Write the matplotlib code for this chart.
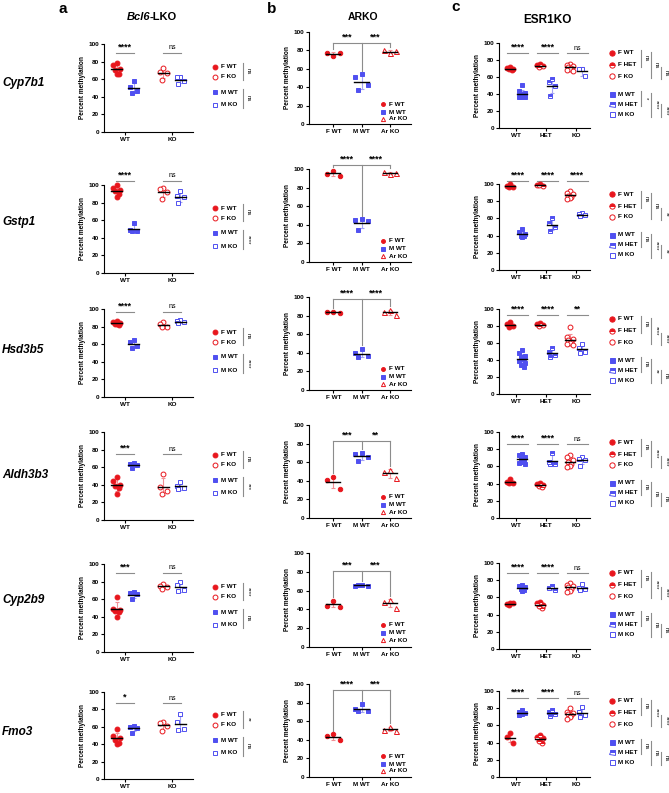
import matplotlib
matplotlib.use('Agg')
import matplotlib.pyplot as plt
import numpy as np

plt.rcParams['font.family'] = ['Liberation Sans', 'DejaVu Sans']
plt.rcParams['font.weight'] = 'bold'

genes = ['Cyp7b1', 'Gstp1', 'Hsd3b5', 'Aldh3b3', 'Cyp2b9', 'Fmo3']

# panel a: Bcl6-LKO
bcl6_f_wt = [[78, 76, 72, 70, 66, 66], [100, 97, 94, 93, 90, 86], [86, 85, 84, 83, 82, 83],
             [49, 44, 40, 39, 36, 29], [63, 49, 48, 47, 46, 40], [57, 50, 47, 45, 41, 40]]
bcl6_m_wt = [[58, 51, 47, 44], [57, 49, 48, 48], [65, 62, 58, 56],
             [65, 64, 62, 59], [68, 67, 66, 60], [61, 60, 59, 53]]
bcl6_f_ko = [[73, 68, 67, 59], [97, 96, 92, 84], [85, 83, 80, 79],
             [52, 38, 33, 29], [77, 75, 74, 72], [66, 64, 61, 55]]
bcl6_m_ko = [[63, 62, 58, 55], [93, 87, 86, 79], [87, 86, 85, 84],
             [43, 39, 36, 35], [80, 76, 70, 69], [75, 66, 57, 56]]
bcl6_sig_top = [['****', 'ns'], ['****', 'ns'], ['****', 'ns'], ['***', 'ns'], ['***', 'ns'], ['*', 'ns']]
bcl6_sig_f = ['ns', 'ns', 'ns', 'ns', '****', '**']
bcl6_sig_m = ['ns', '****', '****', '***', 'ns', 'ns']
bcl6_bar_y = [90, 105, 97, 75, 90, 87]

# panel b: ARKO
ar_f_wt = [[74, 77, 77.5], [98, 95, 93], [84, 84, 83], [44, 41, 31], [49, 44, 43], [46, 44, 40]]
ar_m_wt = [[54, 51, 42, 37], [46, 45, 44, 34], [44, 40, 37, 35],
           [70, 69, 66, 61], [66, 65, 65, 66], [78, 73, 71, 71]]
ar_ko = [[77, 80, 79], [95, 97, 96], [86, 84, 81], [52, 49, 43], [50, 48, 42], [54, 51, 50]]
ar_sig = [['***', '***'], ['****', '****'], ['****', '****'], ['***', '**'], ['***', '***'], ['****', '***']]
ar_bracket_y = [88, 104, 98, 83, 81, 94]

# panel c: ESR1KO
esr_f_wt = [[72, 71, 70, 69, 68], [100, 98, 97, 96], [85, 82, 80, 79],
            [45, 42, 41, 41], [53, 52, 53, 51], [51, 46, 40]]
esr_f_het = [[75, 74, 73, 72], [100, 99, 98, 99], [83, 82, 81, 80],
             [41, 39, 38, 37, 36], [55, 53, 51, 50, 48], [49, 47, 45, 42, 40]]
esr_f_ko = [[75, 74, 73, 72, 71, 70, 68, 67], [92, 90, 88, 86, 85, 84, 83],
            [79, 67, 65, 63, 61, 60, 59, 58], [73, 71, 67, 65, 63, 60, 59],
            [77, 75, 73, 72, 70, 68, 66], [80, 76, 74, 73, 72, 70, 68]]
esr_m_wt = [[51, 43, 41, 40, 39, 38, 37, 36, 36], [48, 44, 42, 40, 39, 38],
            [52, 48, 45, 44, 42, 41, 39, 37, 34, 32], [75, 73, 71, 69, 67, 65, 64, 63],
            [75, 73, 72, 70, 69, 68], [78, 76, 75, 74, 74, 73, 72]]
esr_m_het = [[58, 54, 49, 38], [60, 55, 50, 45], [54, 50, 46, 43],
             [76, 65, 63, 63], [73, 71, 69], [78, 76, 73, 71]]
esr_m_ko = [[70, 69, 61], [66, 65, 64, 63], [59, 54, 50, 48],
            [71, 69, 67, 61], [76, 71, 70, 69], [81, 76, 72, 70]]
esr_sig_top = [['****', '****', 'ns'], ['****', '****', '****'], ['****', '****', '**'],
               ['****', '****', 'ns'], ['****', '****', 'ns'], ['****', '****', 'ns']]
esr_sig_f = [['ns', 'ns', 'ns'], ['ns', 'ns', '**'], ['ns', '****', '****'],
             ['ns', '****', '****'], ['ns', '****', '****'], ['ns', '****', '****']]
esr_sig_m = [['*', '****', '****'], ['ns', '****', '**'], ['ns', '**', 'ns'],
             ['ns', 'ns', 'ns'], ['ns', 'ns', 'ns'], ['ns', 'ns', 'ns']]
esr_bar_y = [88, 104, 93, 86, 88, 92]

RED = '#e8161d'
BLUE = '#5050f0'
RED_L = '#f29095'
BLUE_L = '#a4a4f6'
GRAY = '#8c8c8c'

W, H = 669, 793
fig = plt.figure(figsize=(W / 100, H / 100), dpi=100)

# overlay in pixel coordinates for labels, legends and brackets
ov = fig.add_axes([0, 0, 1, 1])
ov.set_xlim(0, W)
ov.set_ylim(H, 0)
ov.axis('off')
ov.set_zorder(10)
ov.patch.set_alpha(0)

rows_a = [(44, 132), (185, 273), (309, 397), (432, 520), (564, 652), (692, 779)]
rows_b = [(32, 124), (169, 262), (297, 390), (425, 518), (553, 647), (684, 777)]
rows_c = [(43, 128), (184, 270), (309, 394), (432, 518), (563, 649), (691, 777)]
gene_y = [83, 222, 350, 475, 600, 732]


def px_axes(x0, x1, t, b):
    ax = fig.add_axes([x0 / W, 1 - b / H, (x1 - x0) / W, (b - t) / H])
    for s in ['top', 'right']:
        ax.spines[s].set_visible(False)
    for s in ['left', 'bottom']:
        ax.spines[s].set_linewidth(0.8)
    ax.set_ylim(0, 100)
    ax.set_yticks([0, 20, 40, 60, 80, 100])
    ax.tick_params(length=2.5, width=0.8, labelsize=4.6, pad=1)
    ax.set_ylabel('Percent methylation', fontsize=4.7, fontweight='bold', labelpad=1.5)
    ax.patch.set_alpha(0)
    return ax


def group(ax, x, vals, marker, color, light, style, spread, mw, ms):
    v = np.asarray(vals, float)
    offs = np.resize([0, -1, 1, -0.5, 0.5], len(v)) * spread
    m, sd = v.mean(), v.std(ddof=1)
    eb = ax.errorbar(x, m, yerr=sd, fmt='none', ecolor=light, elinewidth=0.8,
                     capsize=1.6, capthick=0.8, zorder=2)
    for a in eb.get_children():
        a.set_clip_on(False)
    kw = dict(ls='none', marker=marker, ms=ms, mec=color, mew=0.7, zorder=3, clip_on=False)
    if style == 'full':
        kw.update(mfc=color)
    elif style == 'open':
        kw.update(mfc='white')
    else:
        kw.update(mfc=color, mfcalt='white', fillstyle='top')
    ax.plot(x + offs, v, **kw)
    ax.plot([x - mw, x + mw], [m, m], color='k', lw=1.0, zorder=4, clip_on=False)


def leg_marker(x, y, marker, color, style, ms, label):
    kw = dict(ls='none', marker=marker, ms=ms, mec=color, mew=0.7)
    if style == 'full':
        kw.update(mfc=color)
    elif style == 'open':
        kw.update(mfc='white')
    else:
        kw.update(mfc=color, mfcalt='white', fillstyle='top')
    ov.plot([x], [y], **kw)
    ov.text(x + 6, y, label, fontsize=4.6, va='center', ha='left')


def vbracket(x, y0, y1, label):
    ov.plot([x, x], [y0, y1], color=GRAY, lw=0.8)
    ov.text(x + 2.5, (y0 + y1) / 2, label, fontsize=4.3, fontweight='normal',
            rotation=-90, ha='left', va='center')


def sig_size(s):
    return 6.5 if '*' in s else 5


# headings
ov.text(63, 9, 'a', fontsize=11, fontweight='bold', ha='center', va='center')
ov.text(272, 9, 'b', fontsize=11, fontweight='bold', ha='center', va='center')
ov.text(456, 7, 'c', fontsize=11, fontweight='bold', ha='center', va='center')
ov.text(150, 17, 'Bcl6', fontsize=8, fontweight='bold', style='italic', ha='right', va='center')
ov.text(150, 17, '-LKO', fontsize=8, fontweight='bold', ha='left', va='center')
ov.text(363, 17, 'ARKO', fontsize=7.5, fontweight='bold', ha='center', va='center')
ov.text(547, 20, 'ESR1KO', fontsize=8.5, fontweight='bold', ha='center', va='center')

for i, g in enumerate(genes):
    ov.text(2, gene_y[i], g, fontsize=8.5, fontweight='bold', style='italic', ha='left', va='center')

    # ---- panel a
    t, b = rows_a[i]
    ax = px_axes(104, 193, t, b)
    ax.set_xlim(-0.45, 1.45)
    ax.set_xticks([0, 1])
    ax.set_xticklabels(['WT', 'KO'])
    group(ax, -0.18, bcl6_f_wt[i], 'o', RED, RED_L, 'full', 0.08, 0.12, 3.5)
    group(ax, 0.18, bcl6_m_wt[i], 's', BLUE, BLUE_L, 'full', 0.08, 0.12, 3.2)
    group(ax, 0.82, bcl6_f_ko[i], 'o', RED, RED_L, 'open', 0.08, 0.12, 3.5)
    group(ax, 1.18, bcl6_m_ko[i], 's', BLUE, BLUE_L, 'open', 0.08, 0.12, 3.2)
    for k in range(2):
        s = bcl6_sig_top[i][k]
        ax.plot([k - 0.2, k + 0.2], [bcl6_bar_y[i]] * 2, color=GRAY, lw=0.8, clip_on=False)
        ax.text(k, bcl6_bar_y[i] + 1.5, s, fontsize=sig_size(s), ha='center', va='bottom',
                fontweight='normal' if s == 'ns' else 'bold')
    leg_marker(215, t + 23, 'o', RED, 'full', 3.5, 'F WT')
    leg_marker(215, t + 33, 'o', RED, 'open', 3.5, 'F KO')
    leg_marker(215, t + 48, 's', BLUE, 'full', 3.2, 'M WT')
    leg_marker(215, t + 61, 's', BLUE, 'open', 3.2, 'M KO')
    vbracket(243, t + 19, t + 36, bcl6_sig_f[i])
    vbracket(243, t + 45, t + 64, bcl6_sig_m[i])

    # ---- panel b
    t, b = rows_b[i]
    ax = px_axes(309, 411, t, b)
    ax.set_xlim(-0.86, 2.75)
    ax.set_xticks([0, 1, 2])
    ax.set_xticklabels(['F WT', 'M WT', 'Ar KO'])
    group(ax, 0, ar_f_wt[i], 'o', RED, RED_L, 'full', 0.22, 0.25, 3.2)
    group(ax, 1, ar_m_wt[i], 's', BLUE, BLUE_L, 'full', 0.22, 0.25, 3.2)
    group(ax, 2, ar_ko[i], '^', RED, RED_L, 'open', 0.22, 0.25, 3.6)
    hb = ar_bracket_y[i]
    legs = [max(ar_f_wt[i]) + 4, max(ar_m_wt[i]) + 4, max(ar_ko[i]) + 4]
    ax.plot([0, 2], [hb, hb], color=GRAY, lw=0.8, clip_on=False)
    for k in range(3):
        ax.plot([k, k], [hb, min(legs[k], hb - 2)], color=GRAY, lw=0.8, clip_on=False)
    for k in range(2):
        ax.text(k + 0.5, hb + 1.5, ar_sig[i][k], fontsize=6.5, ha='center', va='bottom')
    leg_marker(383, t + 72, 'o', RED, 'full', 2.8, 'F WT')
    leg_marker(383, t + 80, 's', BLUE, 'full', 2.8, 'M WT')
    leg_marker(383, t + 87, '^', RED, 'open', 3.0, 'Ar KO')

    # ---- panel c
    t, b = rows_c[i]
    ax = px_axes(499, 590, t, b)
    ax.set_xlim(-0.57, 2.47)
    ax.set_xticks([0, 1, 2])
    ax.set_xticklabels(['WT', 'HET', 'KO'])
    f_groups = [esr_f_wt[i], esr_f_het[i], esr_f_ko[i]]
    m_groups = [esr_m_wt[i], esr_m_het[i], esr_m_ko[i]]
    styles = ['full', 'half', 'open']
    for k in range(3):
        group(ax, k - 0.2, f_groups[k], 'o', RED, RED_L, styles[k], 0.1, 0.17, 3.5)
        group(ax, k + 0.2, m_groups[k], 's', BLUE, BLUE_L, styles[k], 0.1, 0.17, 3.3)
        s = esr_sig_top[i][k]
        ax.plot([k - 0.3, k + 0.4], [esr_bar_y[i]] * 2, color=GRAY, lw=0.8, clip_on=False)
        ax.text(k + 0.05, esr_bar_y[i] + 1.5, s, fontsize=sig_size(s), ha='center', va='bottom',
                fontweight='normal' if s == 'ns' else 'bold')
    names = ['WT', 'HET', 'KO']
    for k in range(3):
        leg_marker(612, t + [10, 22, 33][k], 'o', RED, styles[k], 3.8, 'F ' + names[k])
        leg_marker(612, t + [51, 61, 71][k], 's', BLUE, styles[k], 3.6, 'M ' + names[k])
    vbracket(641, t + 7, t + 24, esr_sig_f[i][0])
    vbracket(651, t + 9, t + 35, esr_sig_f[i][1])
    vbracket(661, t + 24, t + 36, esr_sig_f[i][2])
    vbracket(641, t + 48, t + 63, esr_sig_m[i][0])
    vbracket(651, t + 50, t + 74, esr_sig_m[i][1])
    vbracket(661, t + 61, t + 74, esr_sig_m[i][2])

fig.savefig('out.png', dpi=100)
